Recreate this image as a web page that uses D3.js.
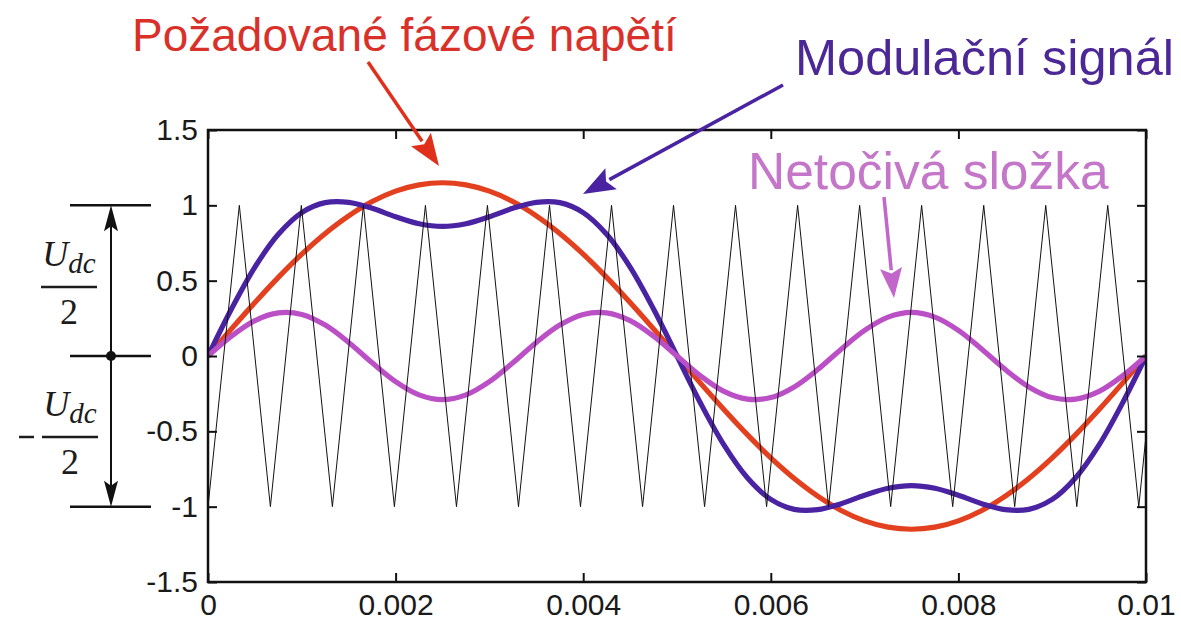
<!DOCTYPE html>
<html>
<head>
<meta charset="utf-8">
<script src="https://cdn.jsdelivr.net/npm/d3@7"></script>
<style>
  html, body { margin: 0; padding: 0; background: #ffffff; }
  svg { display: block; }
</style>
</head>
<body>
<svg id="chart" width="1181" height="623"></svg>
<script>
// ---------------- DATA ----------------
const timeSamples = [
  0, 0.00025, 0.0005, 0.00075, 0.001, 0.00125, 0.0015, 0.00175, 0.002, 0.00225,
  0.0025, 0.00275, 0.003, 0.00325, 0.0035, 0.00375, 0.004, 0.00425, 0.0045, 0.00475,
  0.005, 0.00525, 0.0055, 0.00575, 0.006, 0.00625, 0.0065, 0.00675, 0.007, 0.00725,
  0.0075, 0.00775, 0.008, 0.00825, 0.0085, 0.00875, 0.009, 0.00925, 0.0095, 0.00975, 0.01
];
// Požadované fázové napětí (red)
const phaseVoltage = [
  0, 0.18, 0.355, 0.522, 0.676, 0.813, 0.930, 1.025, 1.094, 1.136,
  1.15, 1.136, 1.094, 1.025, 0.930, 0.813, 0.676, 0.522, 0.355, 0.18,
  0, -0.18, -0.355, -0.522, -0.676, -0.813, -0.930, -1.025, -1.094, -1.136,
  -1.15, -1.136, -1.094, -1.025, -0.930, -0.813, -0.676, -0.522, -0.355, -0.18, 0
];
// Netočivá složka (pink)
const zeroSequence = [
  0, 0.132, 0.235, 0.286, 0.276, 0.205, 0.090, -0.045, -0.170, -0.258,
  -0.29, -0.258, -0.170, -0.045, 0.090, 0.205, 0.276, 0.286, 0.235, 0.132,
  0, -0.132, -0.235, -0.286, -0.276, -0.205, -0.090, 0.045, 0.170, 0.258,
  0.29, 0.258, 0.170, 0.045, -0.090, -0.205, -0.276, -0.286, -0.235, -0.132, 0
];
// Modulační signál (blue)
const modulationSignal = [
  0, 0.312, 0.590, 0.808, 0.952, 1.018, 1.020, 0.980, 0.924, 0.878,
  0.86, 0.878, 0.924, 0.980, 1.020, 1.018, 0.952, 0.808, 0.590, 0.312,
  0, -0.312, -0.590, -0.808, -0.952, -1.018, -1.020, -0.980, -0.924, -0.878,
  -0.86, -0.878, -0.924, -0.980, -1.020, -1.018, -0.952, -0.808, -0.590, -0.312, 0
];
// triangular carrier vertices
const carrierTimes = [
  0, 0.000334, 0.000665, 0.000995, 0.001326, 0.001657, 0.001987, 0.002318,
  0.002649, 0.002979, 0.003310, 0.003641, 0.003971, 0.004302, 0.004633, 0.004963,
  0.005294, 0.005624, 0.005955, 0.006286, 0.006616, 0.006947, 0.007278, 0.007608,
  0.007939, 0.008270, 0.008600, 0.008931, 0.009262, 0.009592, 0.009923, 0.01
];
const carrierValues = [
  -1, 1, -1, 1, -1, 1, -1, 1,
  -1, 1, -1, 1, -1, 1, -1, 1,
  -1, 1, -1, 1, -1, 1, -1, 1,
  -1, 1, -1, 1, -1, 1, -1, -0.53
];
const xTicks = [0, 0.002, 0.004, 0.006, 0.008, 0.01];
const xTickLabels = ["0", "0.002", "0.004", "0.006", "0.008", "0.01"];
const yTicks = [-1.5, -1, -0.5, 0, 0.5, 1, 1.5];
const yTickLabels = ["-1.5", "-1", "-0.5", "0", "0.5", "1", "1.5"];
const seriesNames = ["Požadované fázové napětí", "Modulační signál", "Netočivá složka"];

// ---------------- LAYOUT ----------------
const svg = d3.select("#chart");
const plot = { left: 208, right: 1146, top: 130, bottom: 582 };
const x = d3.scaleLinear().domain([0, 0.01]).range([plot.left, plot.right]);
const y = d3.scaleLinear().domain([-1.5, 1.5]).range([plot.bottom, plot.top]);

const colRed = "#e2401e", colBlue = "#4a23a2", colPink = "#bb50c6";
const txtRed = "#d9312a", txtBlue = "#4b2896", txtPink = "#c476c8";

svg.append("defs").append("clipPath").attr("id", "clip")
  .append("rect").attr("x", plot.left).attr("y", plot.top)
  .attr("width", plot.right - plot.left).attr("height", plot.bottom - plot.top);

const g = svg.append("g").attr("clip-path", "url(#clip)");

const smooth = d3.line().x(d => x(d[0])).y(d => y(d[1])).curve(d3.curveCatmullRom.alpha(0.5));
const straight = d3.line().x(d => x(d[0])).y(d => y(d[1]));

g.append("path").datum(timeSamples.map((t, i) => [t, phaseVoltage[i]]))
  .attr("d", smooth).attr("fill", "none").attr("stroke", colRed).attr("stroke-width", 5.2);
g.append("path").datum(timeSamples.map((t, i) => [t, modulationSignal[i]]))
  .attr("d", smooth).attr("fill", "none").attr("stroke", colBlue).attr("stroke-width", 5.2);
g.append("path").datum(timeSamples.map((t, i) => [t, zeroSequence[i]]))
  .attr("d", smooth).attr("fill", "none").attr("stroke", colPink).attr("stroke-width", 5.2);
g.append("path").datum(carrierTimes.map((t, i) => [t, carrierValues[i]]))
  .attr("d", straight).attr("fill", "none").attr("stroke", "#111").attr("stroke-width", 1);

// ---------------- AXES ----------------
const axisFont = "'Liberation Sans', Arial, Helvetica, sans-serif";
const tickLen = 9;
const axB = d3.axisBottom(x).tickValues(xTicks).tickFormat((d, i) => xTickLabels[i]).tickSizeInner(-tickLen).tickSizeOuter(0).tickPadding(12);
const axT = d3.axisTop(x).tickValues(xTicks).tickFormat("").tickSizeInner(-tickLen).tickSizeOuter(0);
const axL = d3.axisLeft(y).tickValues(yTicks).tickFormat((d, i) => yTickLabels[yTicks.indexOf(d)]).tickSizeInner(-tickLen).tickSizeOuter(0).tickPadding(10);
const axR = d3.axisRight(y).tickValues(yTicks).tickFormat("").tickSizeInner(-tickLen).tickSizeOuter(0);

function styleAxis(sel) {
  sel.select(".domain").remove();
  sel.selectAll(".tick line").attr("stroke", "#111").attr("stroke-width", 2);
  sel.selectAll(".tick text").attr("fill", "#1a1a1a").style("font-family", axisFont).style("font-size", "30px");
}
svg.append("g").attr("transform", `translate(0,${plot.bottom})`).call(axB).call(styleAxis);
svg.append("g").attr("transform", `translate(0,${plot.top})`).call(axT).call(styleAxis);
svg.append("g").attr("transform", `translate(${plot.left},0)`).call(axL).call(styleAxis);
svg.append("g").attr("transform", `translate(${plot.right},0)`).call(axR).call(styleAxis);

svg.append("rect").attr("x", plot.left).attr("y", plot.top)
  .attr("width", plot.right - plot.left).attr("height", plot.bottom - plot.top)
  .attr("fill", "none").attr("stroke", "#111").attr("stroke-width", 2.5);

// ---------------- ANNOTATIONS ----------------
function arrow(x1, y1, x2, y2, color, width, headLen, headW) {
  const ang = Math.atan2(y2 - y1, x2 - x1);
  const bx = x2 - headLen * Math.cos(ang), by = y2 - headLen * Math.sin(ang);
  svg.append("line").attr("x1", x1).attr("y1", y1).attr("x2", bx + 2 * Math.cos(ang)).attr("y2", by + 2 * Math.sin(ang))
    .attr("stroke", color).attr("stroke-width", width);
  const px = -Math.sin(ang), py = Math.cos(ang);
  svg.append("path")
    .attr("d", `M${x2},${y2}L${bx + px * headW / 2},${by + py * headW / 2}L${bx + headLen * 0.18 * Math.cos(ang)},${by + headLen * 0.18 * Math.sin(ang)}L${bx - px * headW / 2},${by - py * headW / 2}Z`)
    .attr("fill", color);
}

const titleFont = "'Liberation Sans', Arial, Helvetica, sans-serif";
svg.append("text").attr("x", 132).attr("y", 51).text(seriesNames[0])
  .attr("fill", txtRed).style("font-family", titleFont).style("font-size", "46px");
svg.append("text").attr("x", 795).attr("y", 75).text(seriesNames[1])
  .attr("fill", txtBlue).style("font-family", titleFont).style("font-size", "50.5px");
svg.append("text").attr("x", 748).attr("y", 189).text(seriesNames[2])
  .attr("fill", txtPink).style("font-family", titleFont).style("font-size", "51.5px");

arrow(368, 62, 439, 166, "#e0301c", 3.5, 32, 24);
arrow(783, 85, 583, 194, "#4a23a2", 3.5, 32, 24);
arrow(884, 197, 894, 298, "#c266cc", 3.5, 30, 22);

// Udc/2 bracket
const bk = "#111";
[1, 0, -1].forEach(v => {
  svg.append("line").attr("x1", 70).attr("x2", 151).attr("y1", y(v)).attr("y2", y(v))
    .attr("stroke", bk).attr("stroke-width", 2.5);
});
function vArrow(yFrom, yTo) {
  const dir = Math.sign(yTo - yFrom);
  svg.append("line").attr("x1", 111).attr("x2", 111).attr("y1", yFrom).attr("y2", yTo - dir * 20)
    .attr("stroke", bk).attr("stroke-width", 2);
  svg.append("path").attr("d", `M111,${yTo}L${104},${yTo - dir * 26}L111,${yTo - dir * 21}L${118},${yTo - dir * 26}Z`).attr("fill", bk);
}
vArrow(y(0), y(1));
vArrow(y(0), y(-1));
svg.append("circle").attr("cx", 111).attr("cy", y(0)).attr("r", 5).attr("fill", bk);

const mathFont = "'Liberation Serif', 'DejaVu Serif', serif";
function fraction(cx, barY, minus) {
  const t = svg.append("text").attr("x", cx).attr("y", barY - 21).attr("text-anchor", "middle")
    .attr("fill", "#1c1c1c").style("font-family", mathFont).style("font-style", "italic");
  t.append("tspan").text("U").style("font-size", "36px");
  t.append("tspan").text("dc").style("font-size", "29px").attr("dy", 7);
  svg.append("line").attr("x1", cx - 28).attr("x2", cx + 28).attr("y1", barY).attr("y2", barY)
    .attr("stroke", "#1c1c1c").attr("stroke-width", 2.5);
  svg.append("text").attr("x", cx).attr("y", barY + 37).attr("text-anchor", "middle")
    .attr("fill", "#1c1c1c").style("font-family", mathFont).style("font-size", "36px").text("2");
  if (minus) {
    svg.append("line").attr("x1", 19).attr("x2", 34).attr("y1", barY).attr("y2", barY)
      .attr("stroke", "#1c1c1c").attr("stroke-width", 2.5);
  }
}
fraction(69, 287, false);
fraction(70, 437, true);
</script>
</body>
</html>
